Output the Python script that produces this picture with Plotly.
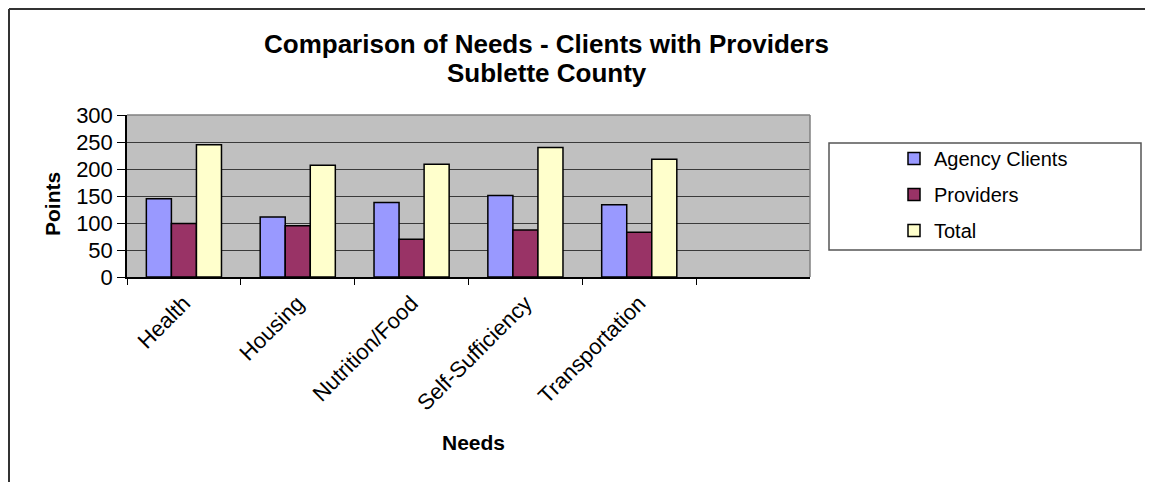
import plotly.graph_objects as go

categories = ["Health", "Housing", "Nutrition/Food", "Self-Sufficiency", "Transportation"]
agency_clients = [145, 111, 138, 151, 134]
providers = [99, 95, 70, 87, 83]
total = [245, 207, 209, 240, 218]
series_names = ["Agency Clients", "Providers", "Total"]
series_colors = ["#9999FF", "#993366", "#FFFFCC"]
y_ticks = [0, 50, 100, 150, 200, 250, 300]

FONT = "Liberation Sans, Arial, sans-serif"

# page offset (browser body margin)
OFF = 8
W, H = 1153 - OFF, 482 - OFF
# plot area in reference page pixels
L, R, T, B = 127, 810, 115, 277
pw, ph = R - L, B - T

def px(x):
    return (x - L) / pw

def py(y):
    return (B - y) / ph

fig = go.Figure()
for name, vals, col in zip(series_names, [agency_clients, providers, total], series_colors):
    fig.add_trace(go.Bar(
        x=categories, y=vals, name=name,
        marker=dict(color=col, line=dict(color="black", width=1.5)),
        legendgroup=name,
    ))

fig.update_layout(
    width=W, height=H,
    margin=dict(l=L - OFF, r=W - (R - OFF), t=T - OFF, b=H - (B - OFF)),
    paper_bgcolor="white",
    plot_bgcolor="#C0C0C0",
    barmode="group",
    bargap=0.34,
    bargroupgap=0,
    font=dict(family=FONT, size=20, color="black"),
    showlegend=True,
    legend=dict(
        x=px(894), y=py(139), xanchor="left", yanchor="top",
        bgcolor="rgba(0,0,0,0)", borderwidth=0,
        font=dict(family=FONT, size=20, color="black"),
        tracegroupgap=7, itemwidth=30,
    ),
    xaxis=dict(
        type="category",
        categoryorder="array", categoryarray=categories,
        range=[-0.5, 5.5],
        tickson="boundaries",
        ticks="outside", ticklen=6, tickcolor="black", tickwidth=1,
        tickangle=-45,
        ticklabelstandoff=3,
        showline=True, linecolor="black", linewidth=1.5,
        showgrid=False,
        tickfont=dict(family=FONT, size=22),
        fixedrange=True,
    ),
    yaxis=dict(
        range=[0, 300],
        tickvals=y_ticks,
        ticks="outside", ticklen=8, tickcolor="black", tickwidth=1,
        showline=True, linecolor="black", linewidth=1.5,
        showgrid=True, gridcolor="#3a3a3a", gridwidth=1,
        zeroline=False,
        tickfont=dict(family=FONT, size=22),
        fixedrange=True,
    ),
)

shapes = [
    # plot area top/right border
    dict(type="line", xref="paper", yref="paper", x0=0, x1=1, y0=1, y1=1,
         line=dict(color="#808080", width=1.5), layer="above"),
    dict(type="line", xref="paper", yref="paper", x0=1, x1=1, y0=0, y1=1,
         line=dict(color="#808080", width=1.5), layer="above"),
    # legend box
    dict(type="rect", xref="paper", yref="paper", x0=px(829), x1=px(1141), y0=py(250), y1=py(143),
         line=dict(color="#555555", width=1.5), fillcolor="white", layer="below"),
    # outer chart border (left and top)
    dict(type="line", xref="paper", yref="paper", x0=px(OFF + 1), x1=px(OFF + 1), y0=py(OFF + 1), y1=py(482),
         line=dict(color="#333333", width=2)),
    dict(type="line", xref="paper", yref="paper", x0=px(OFF + 1), x1=px(1153), y0=py(OFF + 1), y1=py(OFF + 1),
         line=dict(color="#333333", width=2)),
]
fig.update_layout(shapes=shapes)

annotations = [
    dict(text="<b>Comparison of Needs - Clients with Providers</b>",
         xref="paper", yref="paper", x=px(546), y=py(44), xanchor="center", yanchor="middle",
         showarrow=False, font=dict(family=FONT, size=26, color="black")),
    dict(text="<b>Sublette County</b>",
         xref="paper", yref="paper", x=px(547), y=py(73), xanchor="center", yanchor="middle",
         showarrow=False, font=dict(family=FONT, size=26, color="black")),
    dict(text="<b>Points</b>", xref="paper", yref="paper", x=px(52), y=py(204),
         xanchor="center", yanchor="middle", textangle=-90, showarrow=False,
         font=dict(family=FONT, size=21, color="black")),
    dict(text="<b>Needs</b>", xref="paper", yref="paper", x=px(473), y=py(442),
         xanchor="center", yanchor="middle", showarrow=False,
         font=dict(family=FONT, size=21, color="black")),
]
fig.update_layout(annotations=annotations)

fig.write_html("out.html")
